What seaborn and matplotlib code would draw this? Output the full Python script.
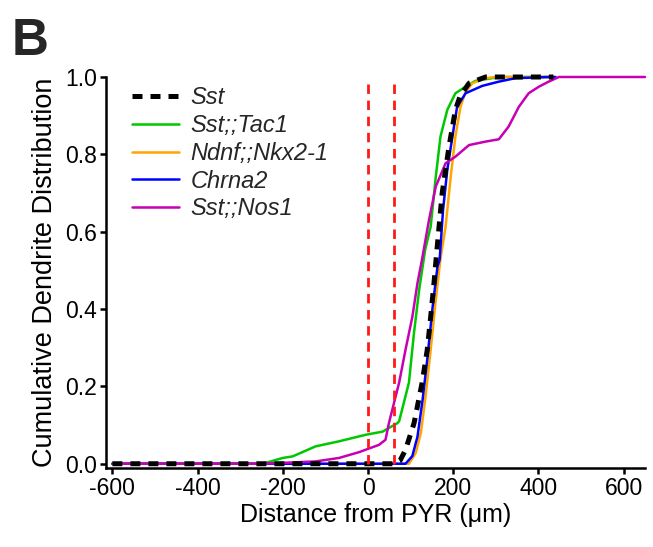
import matplotlib
matplotlib.use("Agg")
import matplotlib.pyplot as plt
import seaborn as sns
import pandas as pd
import numpy as np

sns.set_theme(style="ticks")
plt.rcParams['font.family'] = ['Liberation Sans', 'DejaVu Sans']

# ---- data ----
sst_x = [-600, 62, 75, 88, 108, 127, 139, 147, 155, 161, 174, 190, 205, 216, 237, 276, 435]
sst_y = [0, 0, 0.008, 0.036, 0.105, 0.21, 0.295, 0.38, 0.47, 0.545, 0.70, 0.82, 0.915, 0.95, 0.984, 1.0, 1.0]

tac1_x = [-600, -247, -200, -177, -123, -68, -5, 34, 69, 73, 96, 108, 120, 134, 147, 159, 170, 186, 205, 229, 252, 291, 320, 435]
tac1_y = [0, 0, 0.015, 0.019, 0.045, 0.058, 0.075, 0.083, 0.105, 0.11, 0.21, 0.34, 0.45, 0.553, 0.613, 0.742, 0.846, 0.915, 0.958, 0.975, 0.99, 0.997, 1.0, 1.0]

nkx_x = [-600, 96, 112, 124, 135, 147, 159, 170, 182, 194, 205, 217, 229, 245, 276, 300, 435]
nkx_y = [0, 0, 0.028, 0.08, 0.174, 0.295, 0.424, 0.53, 0.613, 0.742, 0.846, 0.923, 0.962, 0.984, 0.997, 1.0, 1.0]

chrna_x = [-600, 88, 104, 116, 128, 139, 151, 163, 168, 176, 186, 198, 209, 229, 268, 307, 346, 424, 440]
chrna_y = [0, 0, 0.02, 0.07, 0.165, 0.27, 0.40, 0.51, 0.527, 0.656, 0.76, 0.846, 0.923, 0.958, 0.977, 0.988, 0.997, 1.0, 1.0]

nos1_x = [-600, -247, -123, -68, -21, 26, 41, 49, 73, 88, 104, 116, 127, 143, 159, 182, 205, 237, 276, 307, 330, 354, 377, 401, 424, 448, 650]
nos1_y = [0, 0, 0.006, 0.015, 0.03, 0.049, 0.062, 0.105, 0.21, 0.295, 0.38, 0.467, 0.53, 0.63, 0.717, 0.777, 0.794, 0.824, 0.833, 0.839, 0.872, 0.923, 0.958, 0.975, 0.988, 1.0, 1.0]

pyr_bounds = [0, 60]
xticks = [-600, -400, -200, 0, 200, 400, 600]
yticks = [0.0, 0.2, 0.4, 0.6, 0.8, 1.0]

series = [
    ("Sst", sst_x, sst_y),
    ("Sst;;Tac1", tac1_x, tac1_y),
    ("Ndnf;;Nkx2-1", nkx_x, nkx_y),
    ("Chrna2", chrna_x, chrna_y),
    ("Sst;;Nos1", nos1_x, nos1_y),
]
df = pd.concat([pd.DataFrame({"x": x, "y": y, "line": name}) for name, x, y in series],
               ignore_index=True)

colors = {"Sst": "black", "Sst;;Tac1": "#00c800", "Ndnf;;Nkx2-1": "#ffa500",
          "Chrna2": "#0000ff", "Sst;;Nos1": "#c800b4"}

fig = plt.figure(figsize=(6.53, 5.47), dpi=100)
ax = fig.add_axes([106/653, 1-468/547, (645-106)/653, (468-77)/547])

for name, x, y in series:
    sub = df[df["line"] == name]
    if name == "Sst":
        sns.lineplot(data=sub, x="x", y="y", color=colors[name], lw=3.6, ax=ax,
                     estimator=None, sort=False, label=name, zorder=3)
    else:
        sns.lineplot(data=sub, x="x", y="y", color=colors[name], lw=1.8, ax=ax,
                     estimator=None, sort=False, label=name, zorder=2)
for ln in ax.get_lines():
    if ln.get_label() == "Sst":
        ln.set_dashes((2, 1.6))
        ln.set_dash_capstyle("butt")
    ln.set_clip_on(False)

for xv in pyr_bounds:
    ax.plot([xv, xv], [0, 0.99], color="#ff1a1a", lw=2.0, dashes=(3.4, 2.4), zorder=4)

ax.set_xlim(-615, 650)
ax.set_ylim(-0.011, 1.0)
ax.set_xticks(xticks)
ax.set_yticks(yticks)
ax.set_xticklabels([str(v) for v in xticks])
ax.set_yticklabels([f"{v:.1f}" for v in yticks])
ax.tick_params(axis="both", direction="out", length=4.5, width=1.8, labelsize=16.5, pad=2,
               color="black", labelcolor="black")
for s in ["left", "bottom"]:
    ax.spines[s].set_linewidth(1.8)
    ax.spines[s].set_color("black")
for s in ["top", "right"]:
    ax.spines[s].set_visible(False)

ax.set_xlabel("Distance from PYR (\u03bcm)", fontsize=18, labelpad=2, color="black")
ax.set_ylabel("Cumulative Dendrite Distribution", fontsize=19.5, labelpad=5, color="black")

leg = ax.legend(loc="upper left", bbox_to_anchor=(0.03, 1.0), frameon=False,
                prop={"style": "italic", "size": 17}, handlelength=2.0,
                handletextpad=0.5, labelspacing=0.2, borderaxespad=0.0)
for h in leg.get_lines():
    if h.get_label() == "Sst":
        h.set_dashes((2, 1.6))
        h.set_dash_capstyle("butt")

fig.text(12/653, 1-55/547, "B", fontsize=37, fontweight="bold", va="baseline", ha="left")

fig.savefig("out.png", dpi=100)
